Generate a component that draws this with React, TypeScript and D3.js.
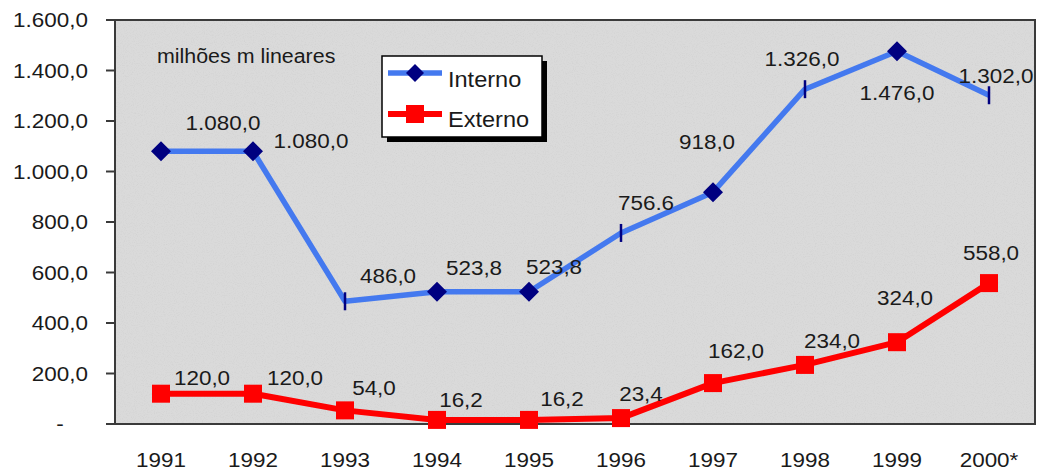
import React from "react"
import * as d3 from "d3"

const years = ["1991", "1992", "1993", "1994", "1995", "1996", "1997", "1998", "1999", "2000*"]
const interno = [1080, 1080, 486, 523.8, 523.8, 756.6, 918, 1326, 1476, 1302]
const externo = [120, 120, 54, 16.2, 16.2, 23.4, 162, 234, 324, 558]
const internoLabels = ["1.080,0", "1.080,0", "486,0", "523,8", "523,8", "756.6", "918,0", "1.326,0", "1.476,0", "1.302,0"]
const externoLabels = ["120,0", "120,0", "54,0", "16,2", "16,2", "23,4", "162,0", "234,0", "324,0", "558,0"]
const yTicks = [0, 200, 400, 600, 800, 1000, 1200, 1400, 1600]
const yTickLabels = ["-", "200,0", "400,0", "600,0", "800,0", "1.000,0", "1.200,0", "1.400,0", "1.600,0"]
const unitLabel = "milhões m lineares"

// marker style per point of Interno (the source shows some as plain ticks)
const internoMarkers = ["d", "d", "t", "d", "d", "t", "d", "t", "d", "t"]

// label nudges relative to the point [dx, dy]
const internoOffsets = [[62, -21], [58, -3], [43, -18], [37, -17], [25, -18], [25, -23], [-6, -43], [-3, -23], [0, 49], [7, -12]]
const externoOffsets = [[41, -9], [42, -9], [29, -15], [24, -13], [33, -14], [20, -17], [23, -25], [27, -17], [8, -37], [2, -23]]

const W = 1045
const H = 471
const margin = { top: 20, right: 10, bottom: 47, left: 115 }
const font = "'Liberation Sans', Arial, sans-serif"
const blue = "#4479ef"
const navy = "#000080"
const red = "#ff0000"

function Txt({ x, y, anchor = "middle", size = 21, children }: any) {
  // slight horizontal stretch like the source image
  return (
    <g transform={`translate(${x},${y}) scale(1.07,1)`}>
      <text x={0} y={0} textAnchor={anchor} fontSize={size} fontFamily={font} fill="#1a1a1a">
        {children}
      </text>
    </g>
  )
}

export default function App() {
  const innerW = W - margin.left - margin.right
  const innerH = H - margin.top - margin.bottom
  const x = d3.scaleBand().domain(years).range([margin.left, margin.left + innerW])
  const y = d3.scaleLinear().domain([0, 1600]).range([margin.top + innerH, margin.top])
  const cx = (i: number) => (x(years[i]) as number) + x.bandwidth() / 2

  const line = d3
    .line<number>()
    .x((_, i) => cx(i))
    .y((d) => y(d))

  const legX = 382
  const legY = 56

  return (
    <svg width={W} height={H} style={{ position: "absolute", left: 0, top: 0, background: "#fff" }}>
      <defs>
        <filter id="noise" x="0" y="0" width="100%" height="100%">
          <feTurbulence type="fractalNoise" baseFrequency="0.9" numOctaves="2" seed="3" />
          <feColorMatrix type="matrix" values="0 0 0 0 0.5  0 0 0 0 0.5  0 0 0 0 0.5  0 0 0 1.6 -0.75" />
        </filter>
      </defs>

      {/* plot background */}
      <rect x={margin.left} y={margin.top} width={innerW} height={innerH} fill="#dadada" />
      <rect x={margin.left} y={margin.top} width={innerW} height={innerH} filter="url(#noise)" opacity={0.35} />
      <rect x={margin.left} y={margin.top} width={innerW} height={innerH} fill="none" stroke="#3a3a3a" strokeWidth={2} />

      {/* y axis ticks and labels */}
      {yTicks.map((t, i) => (
        <g key={t}>
          <line x1={margin.left - 9} x2={margin.left} y1={y(t)} y2={y(t)} stroke="#3a3a3a" strokeWidth={2} />
          <Txt x={i === 0 ? 60 : 88} y={y(t) + 7} anchor={i === 0 ? "middle" : "end"}>
            {yTickLabels[i]}
          </Txt>
        </g>
      ))}

      {/* x labels */}
      {years.map((yr, i) => (
        <Txt key={yr} x={cx(i)} y={467}>
          {yr}
        </Txt>
      ))}

      <Txt x={157} y={63} anchor="start" size={20}>
        {unitLabel}
      </Txt>

      {/* Interno */}
      <path d={line(interno) as string} fill="none" stroke={blue} strokeWidth={5.5} strokeLinejoin="round" />
      {interno.map((v, i) =>
        internoMarkers[i] === "d" ? (
          <path
            key={i}
            d={`M${cx(i)},${y(v) - 10}L${cx(i) + 10},${y(v)}L${cx(i)},${y(v) + 10}L${cx(i) - 10},${y(v)}Z`}
            fill={navy}
          />
        ) : (
          <line key={i} x1={cx(i)} x2={cx(i)} y1={y(v) - 9} y2={y(v) + 9} stroke={navy} strokeWidth={2.5} />
        )
      )}

      {/* Externo */}
      <path d={line(externo) as string} fill="none" stroke={red} strokeWidth={6} strokeLinejoin="round" />
      {externo.map((v, i) => (
        <rect key={i} x={cx(i) - 9} y={y(v) - 9} width={18} height={18} fill={red} />
      ))}

      {/* data labels */}
      {interno.map((v, i) => (
        <Txt key={"il" + i} x={cx(i) + internoOffsets[i][0]} y={y(v) + internoOffsets[i][1]}>
          {internoLabels[i]}
        </Txt>
      ))}
      {externo.map((v, i) => (
        <Txt key={"el" + i} x={cx(i) + externoOffsets[i][0]} y={y(v) + externoOffsets[i][1]}>
          {externoLabels[i]}
        </Txt>
      ))}

      {/* legend */}
      <rect x={legX + 5} y={legY + 5} width={160} height={81} fill="#000" />
      <rect x={legX} y={legY} width={160} height={81} fill="#fff" stroke="#000" strokeWidth={1.5} />
      <line x1={legX + 6} x2={legX + 60} y1={legY + 17} y2={legY + 17} stroke={blue} strokeWidth={5.5} />
      <path
        d={`M${legX + 33},${legY + 8}L${legX + 42},${legY + 17}L${legX + 33},${legY + 26}L${legX + 24},${legY + 17}Z`}
        fill={navy}
      />
      <Txt x={legX + 66} y={legY + 31} anchor="start" size={22}>
        Interno
      </Txt>
      <line x1={legX + 6} x2={legX + 60} y1={legY + 58} y2={legY + 58} stroke={red} strokeWidth={6} />
      <rect x={legX + 24} y={legY + 49} width={18} height={18} fill={red} />
      <Txt x={legX + 66} y={legY + 71} anchor="start" size={22}>
        Externo
      </Txt>
    </svg>
  )
}
